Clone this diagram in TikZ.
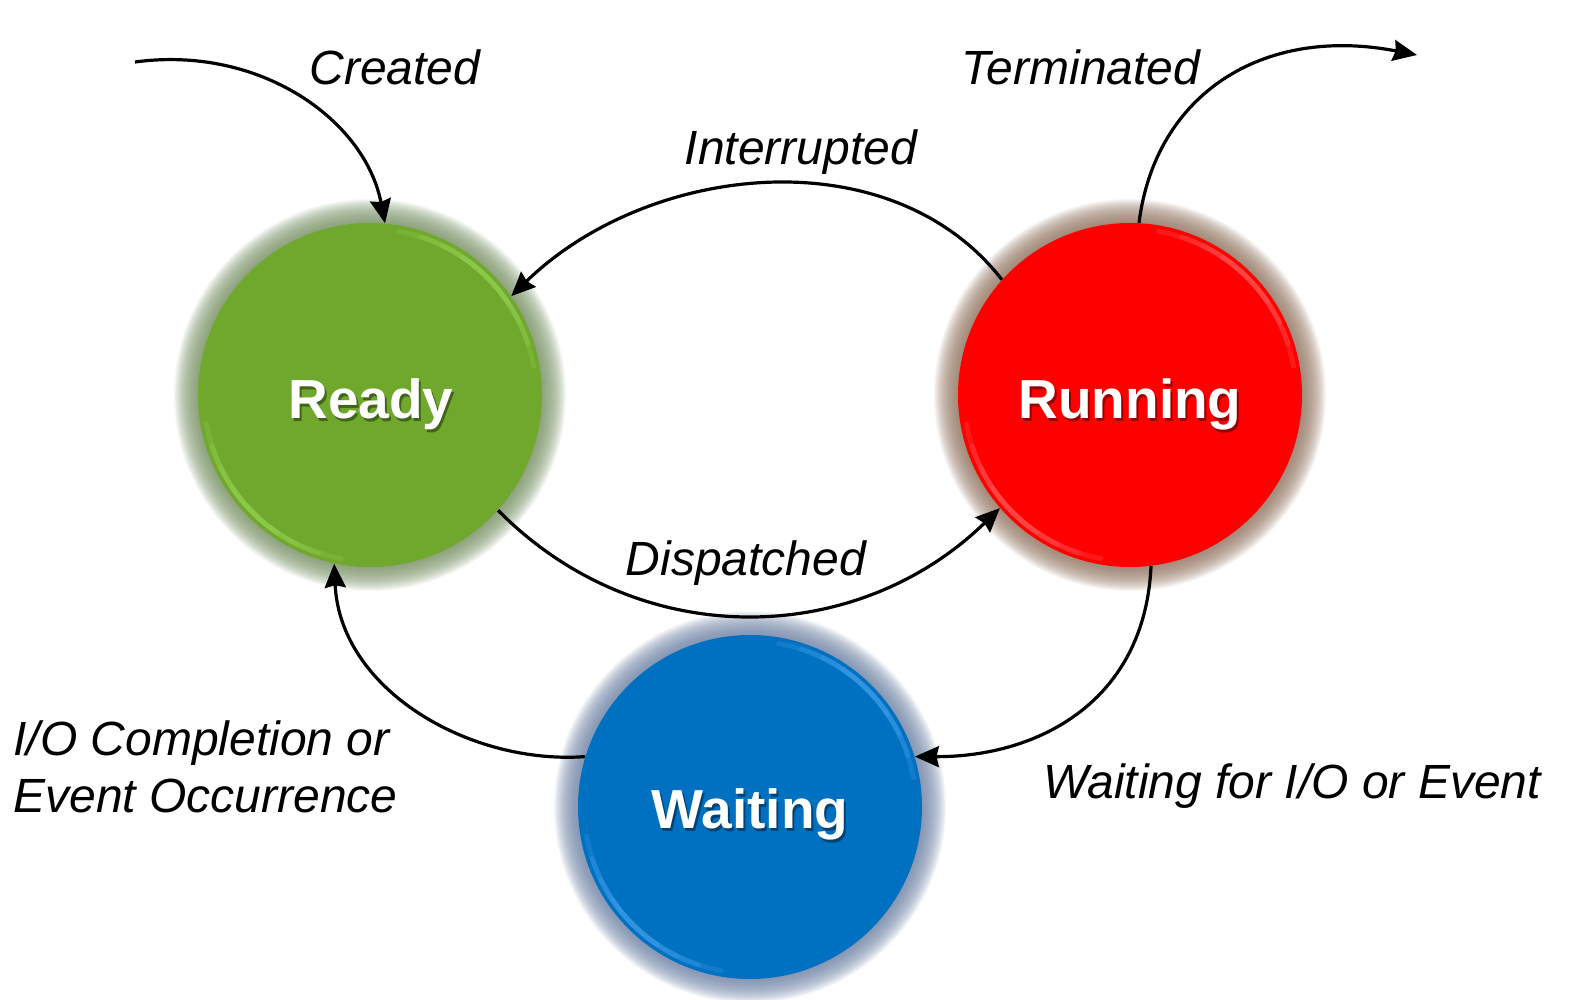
\documentclass[tikz,border=0pt]{standalone}
\usepackage{fontspec}
\setmainfont{Liberation Sans}
\usetikzlibrary{arrows.meta}
\definecolor{gfill}{RGB}{111,168,44}
\definecolor{gglow}{RGB}{125,150,105}
\definecolor{ghi}{RGB}{160,220,90}
\definecolor{rfill}{RGB}{254,0,0}
\definecolor{rglow}{RGB}{150,120,100}
\definecolor{rhi}{RGB}{255,110,110}
\definecolor{bfill}{RGB}{0,112,192}
\definecolor{bglow}{RGB}{115,135,170}
\definecolor{bhi}{RGB}{80,170,245}
\begin{document}
\begin{tikzpicture}[x=0.5pt,y=-0.5pt,
  ball/.style={circle, minimum size=172pt, inner sep=0pt, fill=#1},
  balltxt/.style={anchor=base, inner sep=0pt, text=white, font=\fontsize{27.5}{32}\selectfont\bfseries},
  balltxtshadow/.style={anchor=base, inner sep=0pt, text=black, opacity=0.4, font=\fontsize{27.5}{32}\selectfont\bfseries},
  lbl/.style={anchor=base, inner sep=0pt, font=\fontsize{24}{28}\selectfont\itshape},
  conn/.style={line width=1.6pt, -{Stealth[length=12pt,width=10.5pt,inset=1.2pt]}},
  rim/.style={line width=2.5pt, opacity=0.22, line cap=round}]
\useasboundingbox[fill=white] (0,0) rectangle (1574,1000);

% glows
\foreach \i in {1,...,24}{
  \fill[gglow, opacity=0.065] (370,395) circle[radius=86pt+\i*0.5pt];
  \fill[rglow, opacity=0.065] (1130,395) circle[radius=86pt+\i*0.5pt];
  \fill[bglow, opacity=0.065] (750,807) circle[radius=86pt+\i*0.5pt];
}

% balls
\node[ball=gfill] (ready) at (370,395) {};
\node[ball=rfill] (running) at (1130,395) {};
\node[ball=bfill] (waiting) at (750,807) {};

% rim highlights
\foreach \n/\c in {ready/ghi, running/rhi, waiting/bhi}{
  \foreach \a/\b in {10/80, 18/72, 26/64, 34/56, 190/260, 198/252, 206/244, 214/236}{
    \draw[rim, \c] (\n.center) ++(\a:83pt) arc[start angle=\a, end angle=\b, radius=83pt];
  }
}

% ball texts
\node[balltxtshadow] (readysh) at (373,421) {Ready};
\node[balltxt] (readytxt) at (371,418) {Ready};
\node[balltxtshadow] (runningsh) at (1132,421) {Running};
\node[balltxt] (runningtxt) at (1130,418) {Running};
\node[balltxtshadow] (waitingsh) at (752,831) {Waiting};
\node[balltxt] (waitingtxt) at (750,828) {Waiting};

% connectors
\coordinate (cstart) at (135,62);
\coordinate (tend) at (1417,55);
\draw[conn] (cstart) .. controls (260,45) and (365,120) .. (ready.85);
\draw[conn] (running.87) .. controls (1155,95) and (1262,25) .. (tend);
\draw[conn] (running.138) .. controls (890,136) and (648,163) .. (ready.35);
\draw[conn] (ready.-42) .. controls (639,653) and (856,648) .. (running.221);
\draw[conn] (running.-83) .. controls (1145,700) and (1040,757) .. (waiting.17);
\draw[conn] (waiting.163) .. controls (470,765) and (340,690) .. (ready.-102);

% labels
\node[lbl] (created) at (395,85) {Created};
\node[lbl] (terminated) at (1081,85) {Terminated};
\node[lbl] (interrupted) at (801,165) {Interrupted};
\node[lbl] (dispatched) at (746,575) {Dispatched};
\node[lbl, anchor=base west] (io1) at (13,755) {I/O Completion or};
\node[lbl, anchor=base west] (io2) at (13,812) {Event Occurrence};
\node[lbl] (waitio) at (1292,798) {Waiting for I/O or Event};
\end{tikzpicture}
\end{document}
